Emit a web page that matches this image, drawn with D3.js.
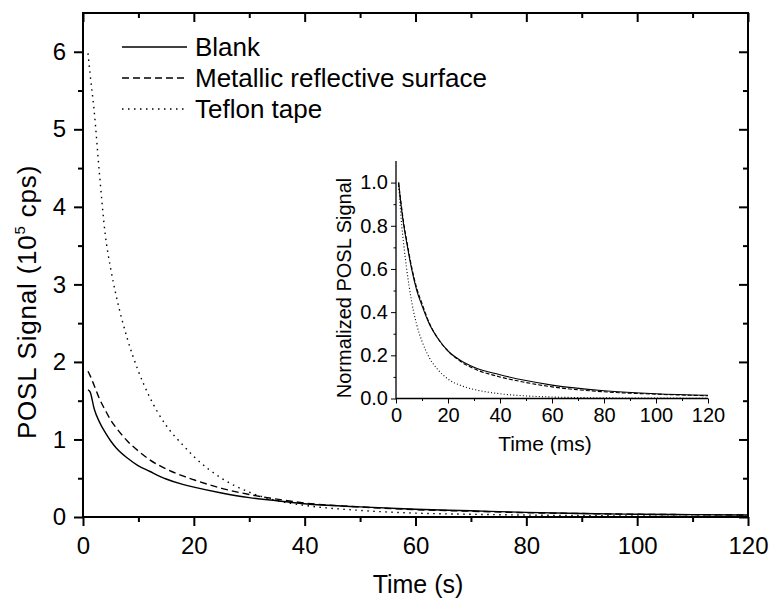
<!DOCTYPE html>
<html>
<head>
<meta charset="utf-8">
<script src="https://cdn.jsdelivr.net/npm/d3@7"></script>
<style>
  body { margin: 0; background: #fff; }
  svg { font-family: "Liberation Sans", Arial, sans-serif; }
</style>
</head>
<body>
<div id="chart-area"></div>
<script>
// ** Data **
// main plot, time in s, signal in 10^5 cps
var mainTime = [0.9, 1.3, 2, 3, 4, 5, 6, 8, 10, 12, 15, 18, 20, 25, 30, 35, 40, 50, 60, 70, 80, 90, 100, 110, 120];
var blankMain =    [1.64, 1.61, 1.40, 1.22, 1.09, 0.98, 0.89, 0.76, 0.66, 0.59, 0.49, 0.42, 0.385, 0.31, 0.25, 0.21, 0.17, 0.13, 0.10, 0.08, 0.06, 0.045, 0.035, 0.03, 0.025];
var metallicMain = [1.88, 1.82, 1.70, 1.52, 1.38, 1.25, 1.15, 0.98, 0.85, 0.74, 0.62, 0.53, 0.48, 0.37, 0.29, 0.23, 0.18, 0.13, 0.095, 0.075, 0.055, 0.045, 0.035, 0.03, 0.025];
var teflonMain =   [5.98, 5.70, 5.25, 4.40, 3.65, 3.20, 2.85, 2.30, 1.88, 1.55, 1.18, 0.93, 0.78, 0.50, 0.32, 0.21, 0.15, 0.085, 0.05, 0.035, 0.025, 0.018, 0.013, 0.01, 0.008];

// inset, time in ms, normalized signal
var insetTime = [1, 2, 3, 4, 6, 8, 10, 13, 16, 20, 25, 30, 40, 50, 60, 80, 100, 120];
var blankInset =    [1.0, 0.89, 0.80, 0.73, 0.60, 0.50, 0.43, 0.34, 0.28, 0.22, 0.175, 0.145, 0.11, 0.083, 0.062, 0.036, 0.022, 0.015];
var metallicInset = [1.0, 0.90, 0.81, 0.74, 0.61, 0.51, 0.44, 0.345, 0.28, 0.22, 0.17, 0.138, 0.10, 0.074, 0.054, 0.031, 0.02, 0.013];
var teflonInset =   [1.0, 0.83, 0.71, 0.61, 0.45, 0.34, 0.265, 0.185, 0.135, 0.09, 0.06, 0.042, 0.022, 0.012, 0.007, 0.003, 0.002, 0.001];

var seriesNames = ["Blank", "Metallic reflective surface", "Teflon tape"];
var mainTicksX = [0, 20, 40, 60, 80, 100, 120];
var mainTicksY = [0, 1, 2, 3, 4, 5, 6];
var insetTicksX = [0, 20, 40, 60, 80, 100, 120];
var insetTicksY = [0, 0.2, 0.4, 0.6, 0.8, 1.0];

// line styles per series
var dashMain = [null, "7,4", "1.5,4.5"];
var dashInset = [null, "4,2", "1,2.2"];

var svg = d3.select("#chart-area")
	.append("svg")
	.attr("width", 772)
	.attr("height", 602);

// ** Main plot **
var m = { left: 83, right: 748, top: 13, bottom: 517 };

var x = d3.scaleLinear().domain([0, 120]).range([m.left, m.right]);
var y = d3.scaleLinear().domain([0, 6.5]).range([m.bottom, m.top]);

function styleAxis(sel, width){
	sel.select(".domain").remove();
	sel.selectAll("line").attr("stroke", "#000").attr("stroke-width", width);
}

// minor ticks
svg.append("g")
	.attr("transform", "translate(0," + m.bottom + ")")
	.call(d3.axisBottom(x).tickValues(d3.range(10, 120, 20)).tickSize(5).tickFormat(""))
	.call(styleAxis, 2);
svg.append("g")
	.attr("transform", "translate(" + m.left + ",0)")
	.call(d3.axisLeft(y).tickValues(d3.range(0.5, 6.5, 1)).tickSize(5).tickFormat(""))
	.call(styleAxis, 2);
svg.append("g")
	.attr("transform", "translate(0," + m.top + ")")
	.call(d3.axisBottom(x).tickValues(d3.range(10, 120, 20)).tickSize(5).tickFormat(""))
	.call(styleAxis, 2);
svg.append("g")
	.attr("transform", "translate(" + m.right + ",0)")
	.call(d3.axisLeft(y).tickValues(d3.range(0.5, 6.5, 1)).tickSize(5).tickFormat(""))
	.call(styleAxis, 2);

// major ticks, labelled on bottom and left
var xAxis = svg.append("g")
	.attr("transform", "translate(0," + m.bottom + ")")
	.call(d3.axisBottom(x).tickValues(mainTicksX).tickSize(9).tickPadding(11).tickFormat(d3.format("d")))
	.call(styleAxis, 2);
xAxis.selectAll("text").attr("font-size", 24).attr("fill", "#000").attr("font-family", null);

var yAxis = svg.append("g")
	.attr("transform", "translate(" + m.left + ",0)")
	.call(d3.axisLeft(y).tickValues(mainTicksY).tickSize(9).tickPadding(8).tickFormat(d3.format("d")))
	.call(styleAxis, 2);
yAxis.selectAll("text").attr("font-size", 24).attr("fill", "#000").attr("font-family", null);

svg.append("g")
	.attr("transform", "translate(0," + m.top + ")")
	.call(d3.axisBottom(x).tickValues(mainTicksX).tickSize(9).tickFormat(""))
	.call(styleAxis, 2);
svg.append("g")
	.attr("transform", "translate(" + m.right + ",0)")
	.call(d3.axisLeft(y).tickValues(mainTicksY).tickSize(9).tickFormat(""))
	.call(styleAxis, 2);

// frame
svg.append("rect")
	.attr("x", m.left)
	.attr("y", m.top)
	.attr("width", m.right - m.left)
	.attr("height", m.bottom - m.top)
	.attr("fill", "none")
	.attr("stroke", "#000")
	.attr("stroke-width", 2);

// curves
var mainSeries = [blankMain, metallicMain, teflonMain];
var mainLine = d3.line()
	.x(function(d){ return x(d[0]); })
	.y(function(d){ return y(d[1]); })
	.curve(d3.curveMonotoneX);

mainSeries.forEach(function(vals, i){
	svg.append("path")
		.datum(mainTime.map(function(t, j){ return [t, vals[j]]; }))
		.attr("d", mainLine)
		.attr("fill", "none")
		.attr("stroke", "#000")
		.attr("stroke-width", 1.4)
		.attr("stroke-dasharray", dashMain[i]);
});

// axis titles
svg.append("text")
	.attr("x", 418)
	.attr("y", 593)
	.attr("text-anchor", "middle")
	.attr("font-size", 25)
	.text("Time (s)");

var yLabel = svg.append("text")
	.attr("transform", "translate(36,302) rotate(-90)")
	.attr("text-anchor", "middle")
	.attr("font-size", 26)
	.attr("letter-spacing", 0.8);
yLabel.append("tspan").text("POSL Signal (10");
yLabel.append("tspan").attr("font-size", 15).attr("dy", -11).text("5");
yLabel.append("tspan").attr("dy", 11).text(" cps)");

// ** Legend **
var legend = svg.append("g").attr("transform", "translate(122,47)");
seriesNames.forEach(function(name, i){
	var row = legend.append("g").attr("transform", "translate(0," + (i * 31) + ")");
	row.append("line")
		.attr("x1", 0).attr("x2", 65)
		.attr("stroke", "#000")
		.attr("stroke-width", 1.4)
		.attr("stroke-dasharray", dashMain[i]);
	row.append("text")
		.attr("x", 73)
		.attr("y", 9)
		.attr("font-size", 26)
		.text(name);
});

// ** Inset **
var ins = { left: 396, right: 708, top: 161, bottom: 398.5 };
var xi = d3.scaleLinear().domain([0, 120]).range([ins.left, ins.right]);
var yi = d3.scaleLinear().domain([0, 1.1]).range([ins.bottom, ins.top]);

svg.append("g")
	.attr("transform", "translate(0," + ins.bottom + ")")
	.call(d3.axisBottom(xi).tickValues(d3.range(10, 120, 20)).tickSize(2.5).tickFormat(""))
	.call(styleAxis, 1);
svg.append("g")
	.attr("transform", "translate(" + ins.left + ",0)")
	.call(d3.axisLeft(yi).tickValues(d3.range(0.1, 1.1, 0.2)).tickSize(2.5).tickFormat(""))
	.call(styleAxis, 1);

var xiAxis = svg.append("g")
	.attr("transform", "translate(0," + ins.bottom + ")")
	.call(d3.axisBottom(xi).tickValues(insetTicksX).tickSize(5).tickPadding(4).tickFormat(d3.format("d")))
	.call(styleAxis, 1);
xiAxis.selectAll("text").attr("font-size", 20).attr("fill", "#000").attr("font-family", null);

var yiAxis = svg.append("g")
	.attr("transform", "translate(" + ins.left + ",0)")
	.call(d3.axisLeft(yi).tickValues(insetTicksY).tickSize(5).tickPadding(3).tickFormat(d3.format(".1f")))
	.call(styleAxis, 1);
yiAxis.selectAll("text").attr("font-size", 20).attr("fill", "#000").attr("font-family", null);

// inset axis lines
svg.append("path")
	.attr("d", "M" + ins.left + "," + ins.top + "V" + ins.bottom + "H" + ins.right)
	.attr("fill", "none")
	.attr("stroke", "#000")
	.attr("stroke-width", 1.3);

var insetSeries = [blankInset, metallicInset, teflonInset];
var insetLine = d3.line()
	.x(function(d){ return xi(d[0]); })
	.y(function(d){ return yi(d[1]); })
	.curve(d3.curveMonotoneX);

insetSeries.forEach(function(vals, i){
	svg.append("path")
		.datum(insetTime.map(function(t, j){ return [t, vals[j]]; }))
		.attr("d", insetLine)
		.attr("fill", "none")
		.attr("stroke", "#000")
		.attr("stroke-width", 1.1)
		.attr("stroke-dasharray", dashInset[i]);
});

svg.append("text")
	.attr("x", 545)
	.attr("y", 451)
	.attr("text-anchor", "middle")
	.attr("font-size", 21)
	.text("Time (ms)");

svg.append("text")
	.attr("transform", "translate(351,288) rotate(-90)")
	.attr("text-anchor", "middle")
	.attr("font-size", 20)
	.text("Normalized POSL Signal");
</script>
</body>
</html>
